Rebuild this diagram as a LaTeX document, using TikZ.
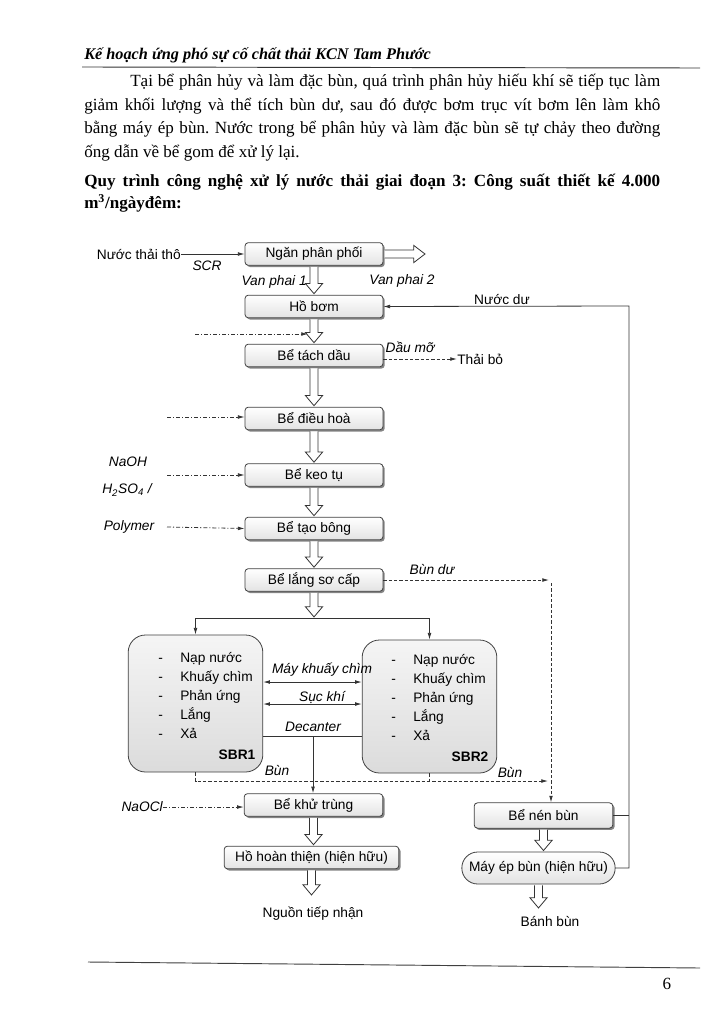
\documentclass[tikz,border=0pt]{standalone}
\usepackage{fontspec}
\setmainfont{Liberation Serif}
\setsansfont{Liberation Sans}
\usetikzlibrary{arrows.meta,shadows,calc}
\frenchspacing
\newcommand\dgfont{\sffamily\fontsize{10.3}{12}\selectfont}
\newcommand\bdfont{\rmfamily\fontsize{12.8}{15}\selectfont}
\newcommand\hdown[2]{\draw[hollow] let \p1=(#1), \p2=(#2) in (\x1-3pt,\y1-0.8pt) -- (\x1-3pt,\y2+8.5pt) -- (\x1-6.5pt,\y2+8.5pt) -- (\x1,\y2+0.8pt) -- (\x1+6.5pt,\y2+8.5pt) -- (\x1+3pt,\y2+8.5pt) -- (\x1+3pt,\y1-0.8pt);}
\newcommand\hright[2]{\draw[hollow] let \p1=(#1), \p2=(#2) in (\x1+1pt,\y1+3pt) -- (\x2-8.5pt,\y1+3pt) -- (\x2-8.5pt,\y1+6.5pt) -- (\x2,\y1) -- (\x2-8.5pt,\y1-6.5pt) -- (\x2-8.5pt,\y1-3pt) -- (\x1+1pt,\y1-3pt);}
\begin{document}
\begin{tikzpicture}[x=0.75pt,y=-0.75pt,
  box/.style={draw=black!75, line width=0.6pt, rounded corners=2.5pt, top color=white, bottom color=gray!22,
    drop shadow={shadow xshift=1.3pt, shadow yshift=-1.3pt, fill=black!60, opacity=0.8},
    minimum width=103.5pt, minimum height=17pt, inner sep=0pt, font=\dgfont},
  sbr/.style={draw=black!75, line width=0.6pt, rounded corners=13pt, top color=gray!8, bottom color=gray!28,
    minimum width=101pt, inner sep=0pt},
  lbl/.style={font=\dgfont, inner sep=0pt},
  ilbl/.style={font=\dgfont\itshape, inner sep=0pt},
  hollow/.style={draw=black!80, line width=0.6pt, fill=white},
  ln/.style={draw=black!80, line width=0.6pt},
  arr/.style={ln, -{Latex[length=5pt,width=2.8pt]}},
  darr/.style={ln, {Latex[length=5pt,width=2.8pt]}-{Latex[length=5pt,width=2.8pt]}},
  dd/.style={dash pattern=on 3pt off 1.5pt on 0.8pt off 1.5pt},
  dsh/.style={dash pattern=on 2.5pt off 1.5pt}
]
\useasboundingbox (0,0) rectangle (723,1024);
\fill[white] (0,0) rectangle (723,1024);

% ---------- page text ----------
\node[anchor=base west, inner sep=0pt, font=\rmfamily\bfseries\itshape\fontsize{12.2}{15}\selectfont] (hdr) at (84,60) {Kế hoạch ứng phó sự cố chất thải KCN Tam Phước};
\draw[line width=0.7pt, black!80] (82,67) -- (700,68);
\node[anchor=base west, inner sep=0pt, font=\bdfont] (p1) at (130,87) {\makebox[397.5pt][s]{Tại bể phân hủy và làm đặc bùn, quá trình phân hủy hiếu khí sẽ tiếp tục làm}};
\node[anchor=base west, inner sep=0pt, font=\bdfont] (p2) at (84,110) {\makebox[432pt][s]{giảm khối lượng và thể tích bùn dư, sau đó được bơm trục vít bơm lên làm khô}};
\node[anchor=base west, inner sep=0pt, font=\bdfont] (p3) at (84,133) {\makebox[432pt][s]{bằng máy ép bùn. Nước trong bể phân hủy và làm đặc bùn sẽ tự chảy theo đường}};
\node[anchor=base west, inner sep=0pt, font=\bdfont] (p4) at (84,157) {ống dẫn về bể gom để xử lý lại.};
\node[anchor=base west, inner sep=0pt, font=\bdfont\bfseries] (q1) at (84,186) {\makebox[432pt][s]{Quy trình công nghệ xử lý nước thải giai đoạn 3: Công suất thiết kế 4.000}};
\node[anchor=base west, inner sep=0pt, font=\bdfont\bfseries] (q2) at (84,208) {m\textsuperscript{3}/ngàyđêm:};
\draw[line width=0.7pt, black!75] (88,962) -- (700,968);
\node[anchor=base, inner sep=0pt, font=\bdfont] (pg) at (667,989) {6};

% ---------- labels drawn under arrows ----------
\node[ilbl, anchor=east] (vp1) at (307,282) {Van phai 1};
\node[ilbl] (vp2) at (402,281) {Van phai 2};

% ---------- main boxes ----------
\node[box] (npp) at (314,254) {Ngăn phân phối};
\node[box] (hb) at (314,306.5) {Hồ bơm};
\node[box] (btd) at (314,355.5) {Bể tách dầu};
\node[box] (bdh) at (314,418.5) {Bể điều hoà};
\node[box] (bkt) at (314,475) {Bể keo tụ};
\node[box] (btb) at (314,528.5) {Bể tạo bông};
\node[box] (blsc) at (314,580) {Bể lắng sơ cấp};
\node[box, minimum width=104pt] (bkht) at (313.5,805) {Bể khử trùng};
\node[box, minimum width=131pt] (hht) at (311.5,857.5) {Hồ hoàn thiện (hiện hữu)};
\node[box, minimum width=104pt, minimum height=19pt] (bnb) at (543.5,815.5) {Bể nén bùn};
\node[draw=black!75, line width=0.6pt, rounded corners=11.9pt, top color=white, bottom color=gray!22,
  minimum width=115pt, minimum height=24pt, inner sep=0pt, font=\dgfont] (mep) at (538.5,868) {Máy ép bùn (hiện hữu)};

% SBR tanks
\node[sbr, minimum height=102.75pt] (sbr1) at (195.5,703.5) {};
\node[sbr, minimum height=99.75pt] (sbr2) at (429.5,706.5) {};
\foreach \t [count=\i] in {Nạp nước, Khuấy chìm, Phản ứng, Lắng, Xả} {
  \node[lbl, anchor=base west] (sad\i) at (158,{662+19.2*(\i-1)}) {-};
  \node[lbl, anchor=base west] (sat\i) at (180,{662+19.2*(\i-1)}) {\t};
  \node[lbl, anchor=base west] (sbd\i) at (391,{664+19.2*(\i-1)}) {-};
  \node[lbl, anchor=base west] (sbt\i) at (413,{664+19.2*(\i-1)}) {\t};
}
\node[lbl, font=\dgfont\bfseries] (s1l) at (237,755) {SBR1};
\node[lbl, font=\dgfont\bfseries] (s2l) at (470,757) {SBR2};

% ---------- other labels ----------
\node[lbl, anchor=east] (ntt) at (181,254) {Nước thải thô};
\node[ilbl] (scr) at (207,266) {SCR};
\node[lbl, anchor=base] (nd) at (502,304) {Nước dư};
\node[ilbl] (dm) at (410,347) {Dầu mỡ};
\node[lbl, anchor=west] (tb) at (457,359) {Thải bỏ};
\node[ilbl] (naoh) at (128,462) {NaOH};
\node[ilbl] (h2so4) at (127,490) {H\textsubscript{2}SO\textsubscript{4} /};
\node[ilbl] (poly) at (129,527) {Polymer};
\node[ilbl, anchor=east] (naocl) at (163,807) {NaOCl};
\node[ilbl] (bdu) at (432,570) {Bùn dư};
\node[ilbl] (mkc) at (322,670) {Máy khuấy chìm};
\node[ilbl] (sk) at (322,697) {Sục khí};
\node[ilbl] (dec) at (313,727) {Decanter};
\node[ilbl] (bun1) at (277,770) {Bùn};
\node[ilbl] (bun2) at (510,772) {Bùn};
\node[lbl, inner sep=0pt] (ntn) at (313,914) {Nguồn tiếp nhận};
\node[lbl, inner sep=0pt] (bb) at (550,921) {Bánh bùn};

% ---------- coordinates ----------
\coordinate (npr) at (425,254);
\coordinate (sp) at (314,618);
\coordinate (dd1) at (195,334);
\coordinate (dd1e) at (308,334);
\coordinate (dd2) at (167,417);
\coordinate (dd3) at (167,475);
\coordinate (dd4) at (167,527);
\coordinate (bj) at (551,781);
\coordinate (nr) at (629,306);
\coordinate (dj) at (313,736);
\coordinate (ntnt) at (313,896);
\coordinate (bbt) at (544,909);

% ---------- connectors ----------
\draw[arr] (ntt.east) -- (npp.west);
\hright{npp.east}{npr}
\hdown{npp.south}{hb.north}
\hdown{hb.south}{btd.north}
\hdown{btd.south}{bdh.north}
\hdown{bdh.south}{bkt.north}
\hdown{bkt.south}{btb.north}
\hdown{btb.south}{blsc.north}
\hdown{blsc.south}{sp}
\hdown{bkht.south}{hht.north}
\hdown{hht.south}{ntnt}
\hdown{bnb.south}{mep.north}
\hdown{mep.south}{bbt}

\draw[ln, dd, -{Latex[length=5pt,width=2.8pt]}] (dd1) -- (dd1e);
\draw[ln, dd, -{Latex[length=5pt,width=2.8pt]}] (dd2) -- (bdh.west |- dd2);
\draw[ln, dd, -{Latex[length=5pt,width=2.8pt]}] (dd3) -- (bkt.west);
\draw[ln, dd, -{Latex[length=5pt,width=2.8pt]}] (dd4) -- (btb.west);
\draw[ln, dd, -{Latex[length=5pt,width=2.8pt]}] (naocl.east) -- (bkht.west |- naocl.east);
\draw[ln, dsh, -{Latex[length=5pt,width=2.8pt]}] (btd.east |- tb.west) -- (tb.west);

% split to SBRs
\draw[ln] (sp -| sbr1.north) -- (sp -| sbr2.north);
\draw[arr] (sp -| sbr1.north) -- (sbr1.north);
\draw[arr] (sp -| sbr2.north) -- (sbr2.north);

% between SBRs
\draw[darr] (sbr1.east |- 0,682) -- (sbr2.west |- 0,682);
\draw[darr] (sbr1.east |- 0,704) -- (sbr2.west |- 0,704);
\draw[ln] (sbr1.east |- dj) -- (sbr2.west |- dj);
\draw[arr] (dj) -- (dj |- bkht.north);

% sludge lines
\draw[ln, dsh, -{Latex[length=5pt,width=2.8pt]}] (blsc.east) -- ($(blsc.east -| bj)+(-2,0)$);
\draw[ln, dsh, -{Latex[length=5pt,width=2.8pt]}] ($(blsc.east -| bj)+(0,3)$) -- (bnb.north -| bj);
\draw[ln, dsh, -{Latex[length=5pt,width=2.8pt]}] (sbr1.south) |- ($(bj)+(-3,0)$);
\draw[ln, dsh] (sbr2.south) -- (sbr2.south |- bj);

% excess water return
\draw[arr] (mep.east) -| (nr) -- (hb.east);
\draw[ln] (bnb.east) -- (bnb.east -| nr);
\end{tikzpicture}
\end{document}
